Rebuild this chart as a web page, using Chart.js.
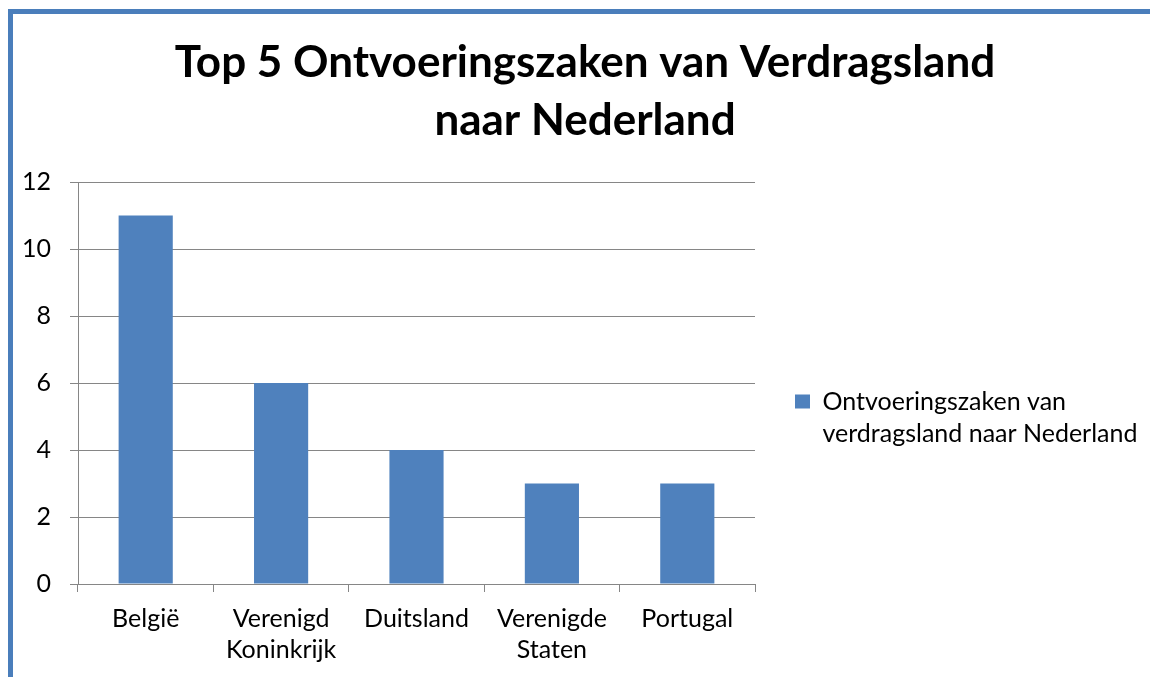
<!DOCTYPE html>
<html>
<head>
<meta charset="utf-8">
<script src="https://cdn.jsdelivr.net/npm/chart.js@4/dist/chart.umd.min.js"></script>
<style>
  html, body { margin: 0; padding: 0; background: #fff; overflow: hidden; width: 1150px; height: 677px; }
  #frame { position: absolute; left: 8px; top: 9px; width: 1200px; height: 720px; border: 5px solid #4a7ebb; }
  #graph { position: absolute; left: 13px; top: 14px; }
</style>
</head>
<body>
<div id="frame"></div>
<canvas id="graph" width="1144" height="670"></canvas>
<script>
// chart data
const titleLines = ['Top 5 Ontvoeringszaken van Verdragsland', 'naar Nederland'];
const categories = ['België', ['Verenigd', 'Koninkrijk'], 'Duitsland', ['Verenigde', 'Staten'], 'Portugal'];
const cases = [11, 6, 4, 3, 3];
const seriesLabel = ['Ontvoeringszaken van', 'verdragsland naar Nederland'];
const yTicks = [0, 2, 4, 6, 8, 10, 12];

const barColor = '#4f81bd';
const gridColor = '#868686';
const fontFamily = 'Lato, "Open Sans", sans-serif';

// keep the legend column a fixed width so the plot ends where it should
const legendWidth = {
  id: 'legendWidth',
  beforeInit(chart) {
    const origFit = chart.legend.fit;
    chart.legend.fit = function fit() {
      origFit.bind(chart.legend)();
      this.width = 402;
    };
  }
};

function drawChart() {
  return new Chart(document.getElementById('graph'), {
    type: 'bar',
    data: {
      labels: categories,
      datasets: [{
        label: seriesLabel.join(' '),
        data: cases,
        backgroundColor: barColor,
        barPercentage: 0.4,
        categoryPercentage: 1.0
      }]
    },
    options: {
      responsive: false,
      animation: false,
      layout: { padding: 0 },
      plugins: {
        legend: {
          display: true,
          position: 'right',
          align: 'center',
          // empty title only used to push the entry down a bit
          title: { display: true, text: '', padding: 0, font: { size: 10, lineHeight: '144px' } },
          labels: {
            boxWidth: 15,
            boxHeight: 14,
            padding: 40,
            color: '#000',
            font: { family: fontFamily, size: 25, lineHeight: '32px' },
            generateLabels: function (chart) {
              const items = Chart.defaults.plugins.legend.labels.generateLabels(chart);
              items.forEach(function (it) { it.text = seriesLabel; it.lineWidth = 0; });
              return items;
            }
          }
        },
        tooltip: { enabled: false },
        title: {
          display: true,
          text: titleLines,
          color: '#000',
          font: { family: fontFamily, size: 44, weight: 'bold', lineHeight: '58px' },
          padding: { top: 20, bottom: 32 }
        }
      },
      scales: {
        x: {
          grid: { offset: true, drawOnChartArea: false, color: gridColor, tickLength: 8 },
          border: { color: gridColor },
          ticks: {
            color: '#000',
            padding: 11,
            maxRotation: 0,
            autoSkip: false,
            font: { family: fontFamily, size: 25, lineHeight: '31px' }
          },
          afterFit: function (scale) { scale.height = 100; }
        },
        y: {
          min: 0,
          max: 12,
          afterBuildTicks: function (scale) {
            scale.ticks = yTicks.map(function (v) { return { value: v }; });
          },
          grid: { color: gridColor, tickLength: 8 },
          border: { color: gridColor },
          ticks: {
            color: '#000',
            padding: 19,
            font: { family: fontFamily, size: 25 }
          },
          afterFit: function (scale) { scale.width = 65; }
        }
      }
    },
    plugins: [legendWidth]
  });
}

drawChart();
</script>
</body>
</html>
